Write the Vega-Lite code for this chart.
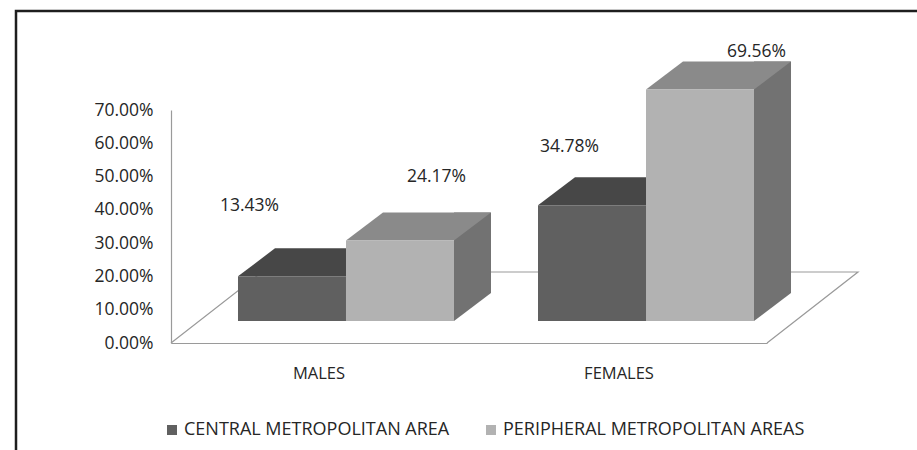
{
  "$schema": "https://vega.github.io/schema/vega-lite/v6.json",
  "width": 920,
  "height": 460,
  "autosize": {"type": "none"},
  "padding": {"left": 16, "top": 11, "right": 0, "bottom": 0},
  "background": "white",
  "config": {
    "view": {"stroke": "#1e1e1e", "strokeWidth": 2.5},
    "font": "Open Sans",
    "axis": {"labelFont": "Open Sans", "labelColor": "#262626", "domainColor": "#9a9a9a", "domainWidth": 1.2, "ticks": false, "grid": false, "title": null}
  },
  "data": {"values": [
    {"group": "MALES", "area": "CENTRAL METROPOLITAN AREA", "share": 0.1343},
    {"group": "MALES", "area": "PERIPHERAL METROPOLITAN AREAS", "share": 0.2417},
    {"group": "FEMALES", "area": "CENTRAL METROPOLITAN AREA", "share": 0.3478},
    {"group": "FEMALES", "area": "PERIPHERAL METROPOLITAN AREAS", "share": 0.6956}
  ]},
  "layer": [
    {
      "encoding": {
        "x": {"field": "group", "type": "nominal", "sort": ["MALES", "FEMALES"],
          "scale": {"range": [155, 751], "paddingInner": 0.28, "paddingOuter": 0.1333},
          "axis": {"orient": "bottom", "offset": -128, "labelAngle": 0, "labelPadding": 22, "labelFontSize": 16.5}},
        "y": {"field": "share", "type": "quantitative",
          "scale": {"domain": [0, 0.7], "range": [332, 99], "nice": false, "zero": true},
          "axis": {"orient": "left", "offset": -155, "format": ".2%", "values": [0, 0.1, 0.2, 0.3, 0.4, 0.5, 0.6, 0.7], "labelPadding": 18, "labelFontSize": 17.5}},
        "color": {"field": "area", "type": "nominal",
          "scale": {"domain": ["CENTRAL METROPOLITAN AREA", "PERIPHERAL METROPOLITAN AREAS"], "range": ["#606060", "#b2b2b2"]},
          "legend": {"orient": "none", "legendX": 147, "legendY": 410, "direction": "horizontal", "title": null, "symbolType": "square", "symbolSize": 100, "symbolStrokeWidth": 0, "labelFont": "Open Sans", "labelFontSize": 18, "labelColor": "#262626", "labelLimit": 500, "columnPadding": 32, "padding": 0, "labelOffset": 3}}
      },
      "layer": [
        {
          "transform": [{"filter": "datum.group == 'MALES' && datum.area == 'CENTRAL METROPOLITAN AREA'"}],
          "mark": {"type": "point", "shape": "M -1.48 0 L -0.57 -0.71 L 5.39 -0.71 L 4.48 0", "size": 40000, "filled": false, "stroke": "#9a9a9a", "strokeWidth": 1.2, "opacity": 1},
          "encoding": {"x": {"datum": "MALES"}, "y": {"datum": 0}, "color": {"value": "#9a9a9a"}}
        },
        {
          "transform": [{"filter": "datum.area == 'CENTRAL METROPOLITAN AREA'"}],
          "layer": [
            {"mark": {"type": "bar", "width": 37, "xOffset": 45.5, "yOffset": -50, "y2Offset": -50},
             "encoding": {"y2": {"datum": 0}, "color": {"value": "#535353"}}},
            {"mark": {"type": "point", "shape": "M 0 0 L 0 -0.5185 L 0.685 -0.5185 Z", "size": 11664, "filled": true, "opacity": 1, "strokeWidth": 0, "xOffset": 27, "yOffset": -22},
             "encoding": {"y": {"datum": 0}, "color": {"value": "#535353"}}},
            {"mark": {"type": "point", "shape": "M -1 0 L 1 0 L 1.685 -0.5185 L -0.315 -0.5185 Z", "size": 11664, "filled": true, "opacity": 1, "strokeWidth": 0, "xOffset": -27, "yOffset": -22},
             "encoding": {"color": {"value": "#474747"}}},
            {"mark": {"type": "bar", "width": 108, "xOffset": -27, "yOffset": -22, "y2Offset": -22},
             "encoding": {"y2": {"datum": 0}}}
          ]
        },
        {
          "transform": [{"filter": "datum.area == 'PERIPHERAL METROPOLITAN AREAS'"}],
          "layer": [
            {"mark": {"type": "bar", "width": 37, "xOffset": 153.5, "yOffset": -50, "y2Offset": -50},
             "encoding": {"y2": {"datum": 0}, "color": {"value": "#727272"}}},
            {"mark": {"type": "point", "shape": "M 0 0 L 0 -0.5185 L 0.685 -0.5185 Z", "size": 11664, "filled": true, "opacity": 1, "strokeWidth": 0, "xOffset": 135, "yOffset": -22},
             "encoding": {"y": {"datum": 0}, "color": {"value": "#727272"}}},
            {"mark": {"type": "point", "shape": "M -1 0 L 1 0 L 1.685 -0.5185 L -0.315 -0.5185 Z", "size": 11664, "filled": true, "opacity": 1, "strokeWidth": 0, "xOffset": 81, "yOffset": -22},
             "encoding": {"color": {"value": "#8a8a8a"}}},
            {"mark": {"type": "bar", "width": 108, "xOffset": 81, "yOffset": -22, "y2Offset": -22},
             "encoding": {"y2": {"datum": 0}}}
          ]
        }
      ]
    },
    {
      "encoding": {
        "x": {"field": "group", "type": "nominal", "sort": ["MALES", "FEMALES"],
          "scale": {"range": [143, 783], "paddingInner": 0, "paddingOuter": 0}, "axis": null},
        "y": {"field": "share", "type": "quantitative",
          "scale": {"domain": [0, 0.7], "range": [232, 39.5], "nice": false, "zero": true}, "axis": null},
        "text": {"field": "share", "type": "quantitative", "format": ".2%"}
      },
      "layer": [
        {"transform": [{"filter": "datum.area == 'CENTRAL METROPOLITAN AREA'"}],
         "mark": {"type": "text", "font": "Open Sans", "fontSize": 17.5, "color": "#262626", "xOffset": -69.5}},
        {"transform": [{"filter": "datum.area == 'PERIPHERAL METROPOLITAN AREAS'"}],
         "mark": {"type": "text", "font": "Open Sans", "fontSize": 17.5, "color": "#262626", "xOffset": 117.5}}
      ]
    }
  ],
  "resolve": {"scale": {"x": "independent", "y": "independent"}}
}
